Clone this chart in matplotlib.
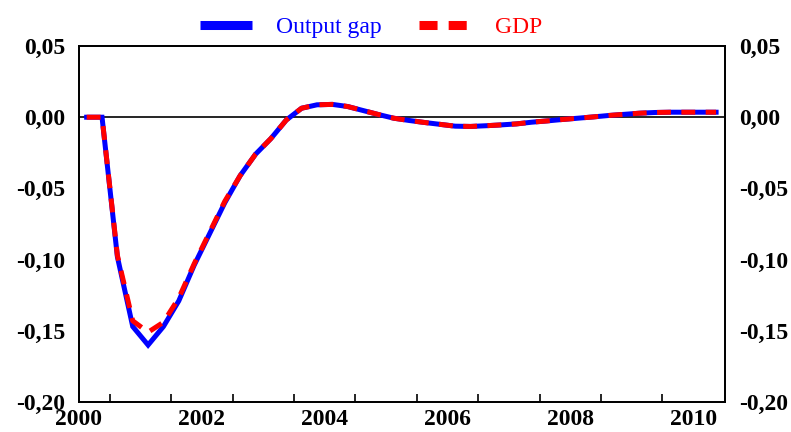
import matplotlib
matplotlib.use("Agg")
import matplotlib.pyplot as plt
from matplotlib.lines import Line2D

plt.rcParams['font.family'] = ['Liberation Serif', 'DejaVu Serif']
plt.rcParams['lines.scale_dashes'] = False

# quarterly data, 2000Q1 .. 2010Q2
output_gap = [0.0, 0.0, -0.098, -0.147, -0.160, -0.147, -0.129, -0.104, -0.082, -0.060,
              -0.041, -0.026, -0.015, -0.002, 0.0063, 0.0087, 0.009, 0.0075, 0.0047, 0.0019,
              -0.0007, -0.0023, -0.0037, -0.005, -0.0063, -0.0065, -0.006, -0.0054, -0.0047,
              -0.0035, -0.0026, -0.0016, -0.0007, 0.0002, 0.0012, 0.002, 0.0028, 0.0033,
              0.0035, 0.0035, 0.0035, 0.0035]
gdp = [0.0, 0.0, -0.097, -0.143, -0.151, -0.144, -0.127, -0.103, -0.081, -0.059,
       -0.041, -0.026, -0.015, -0.002, 0.0063, 0.0087, 0.009, 0.0075, 0.0047, 0.0019,
       -0.0007, -0.0023, -0.0037, -0.005, -0.0063, -0.0065, -0.006, -0.0054, -0.0047,
       -0.0035, -0.0026, -0.0016, -0.0007, 0.0002, 0.0012, 0.002, 0.0028, 0.0033,
       0.0035, 0.0035, 0.0035, 0.0035]
quarters = [2000.125 + 0.25 * k for k in range(len(output_gap))]

year_labels = ['2000', '2002', '2004', '2006', '2008', '2010']
year_pos = [2000, 2002, 2004, 2006, 2008, 2010]
y_vals = [0.05, 0.0, -0.05, -0.10, -0.15, -0.20]
y_labels = ['0,05', '0,00', '-0,05', '-0,10', '-0,15', '-0,20']

fig = plt.figure(figsize=(7.91, 4.32), dpi=100)
ax = fig.add_axes([79/791, 30/432, 646/791, 356/432])

ax.axhline(0, color='black', lw=1.2, zorder=1)
ax.plot(quarters, output_gap, color='#0000ff', lw=3.6, solid_joinstyle='miter', zorder=2)
ax.plot(quarters, gdp, color='#ff0000', lw=3.6, dashes=(10, 7.5), dash_capstyle='butt', zorder=3)

ax.set_xlim(2000, 2010.52)
ax.set_ylim(-0.20, 0.05)

# ticks between the year labels
ax.set_xticks([2000.5 + i for i in range(10)])
ax.set_xticklabels([])
ax.tick_params(axis='x', which='major', direction='in', length=6, width=1.2)
ax.set_xticks(year_pos, minor=True)
ax.set_xticklabels(year_labels, minor=True, fontsize=17, fontweight='bold')
ax.tick_params(axis='x', which='minor', length=0, pad=5)

ax.set_yticks(y_vals)
ax.set_yticklabels(y_labels, fontsize=17, fontweight='bold')
ax.tick_params(axis='y', which='major', length=0, pad=10)
ax.set_yticks([-0.05, -0.10, -0.15], minor=True)
ax.tick_params(axis='y', which='minor', direction='out', length=5, width=1.2)

ax2 = ax.twinx()
ax2.set_ylim(-0.20, 0.05)
ax2.set_yticks(y_vals)
ax2.set_yticklabels(y_labels, fontsize=17, fontweight='bold')
ax2.tick_params(axis='y', which='major', length=0, pad=10)
ax2.set_yticks([-0.05, -0.10, -0.15], minor=True)
ax2.tick_params(axis='y', which='minor', direction='in', length=3, width=1.2)

for a in (ax, ax2):
    for s in a.spines.values():
        s.set_linewidth(1.3)
        s.set_color('black')

handles = [Line2D([], [], color='#0000ff', lw=6.5, solid_capstyle='butt'),
           Line2D([], [], color='#ff0000', lw=6.5, dashes=(13, 8), dash_capstyle='butt')]
leg = fig.legend(handles, ['Output gap', 'GDP'], loc='center', bbox_to_anchor=(371/791, 0.937),
                 ncol=2, frameon=False, fontsize=17, handlelength=2.2, handletextpad=1.0,
                 columnspacing=1.6)
for txt, c in zip(leg.get_texts(), ['#0000ff', '#ff0000']):
    txt.set_color(c)

fig.savefig('out.png', dpi=100)
